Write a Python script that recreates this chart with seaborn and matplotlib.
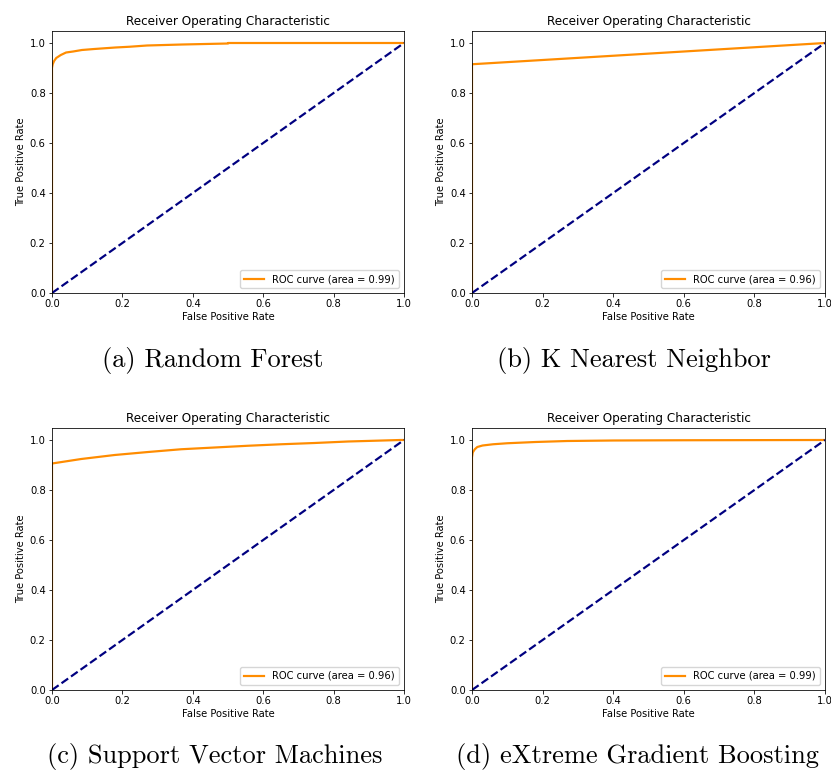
import matplotlib
matplotlib.use('Agg')
import matplotlib.pyplot as plt
import seaborn as sns

# ROC points
rf_fpr = [0.0, 0.0, 0.002, 0.006, 0.012, 0.025, 0.04, 0.06, 0.085, 0.12, 0.18, 0.22, 0.27, 0.37, 0.5, 0.5, 1.0]
rf_tpr = [0.0, 0.90, 0.915, 0.928, 0.94, 0.952, 0.962, 0.966, 0.972, 0.976, 0.982, 0.985, 0.99, 0.994, 0.998, 1.0, 1.0]

knn_fpr = [0.0, 0.0, 1.0]
knn_tpr = [0.0, 0.915, 1.0]

svm_fpr = [0.0, 0.0, 0.083, 0.178, 0.273, 0.367, 0.462, 0.557, 0.652, 0.746, 0.841, 0.99, 1.0]
svm_tpr = [0.0, 0.906, 0.924, 0.94, 0.952, 0.963, 0.97, 0.977, 0.983, 0.988, 0.994, 1.0, 1.0]

xgb_fpr = [0.0, 0.0, 0.002, 0.008, 0.015, 0.03, 0.06, 0.1, 0.18, 0.27, 0.4, 0.6, 1.0]
xgb_tpr = [0.0, 0.93, 0.95, 0.963, 0.972, 0.978, 0.983, 0.987, 0.992, 0.996, 0.998, 0.999, 1.0]

diag = [0.0, 1.0]
aucs = [0.99, 0.96, 0.96, 0.99]
captions = ["(a) Random Forest", "(b) K Nearest Neighbor",
            "(c) Support Vector Machines", "(d) eXtreme Gradient Boosting"]

plt.style.use('default')
S = 0.72  # shrink factor of the original figures

fig = plt.figure(figsize=(8.31, 7.72), dpi=100)
W, H = 831, 772
# axes boxes in pixels: left, top, width, height
boxes = [(52, 30.5, 352, 262.5), (472, 30.5, 353, 262.5),
         (52, 427.5, 352, 262.5), (472, 427.5, 353, 262.5)]
cap_pos = [(213, 360), (634, 360), (215, 757), (637, 757)]
curves = [(rf_fpr, rf_tpr), (knn_fpr, knn_tpr), (svm_fpr, svm_tpr), (xgb_fpr, xgb_tpr)]

for (l, t, w, h), (fpr, tpr), auc, cap, (cx, cy) in zip(boxes, curves, aucs, captions, cap_pos):
    ax = fig.add_axes([l / W, 1 - (t + h) / H, w / W, h / H])
    sns.lineplot(x=fpr, y=tpr, ax=ax, color='darkorange', lw=2 * S * 1.1,
                 sort=False, estimator=None, label=f'ROC curve (area = {auc:.2f})')
    sns.lineplot(x=diag, y=diag, ax=ax, color='navy', lw=2 * S * 1.1, linestyle='--',
                 sort=False, estimator=None)
    ax.set_xlim([0.0, 1.0])
    ax.set_ylim([0.0, 1.05])
    ax.set_xlabel('False Positive Rate', fontsize=10 * S, labelpad=2)
    ax.set_ylabel('True Positive Rate', fontsize=10 * S, labelpad=3)
    ax.set_title('Receiver Operating Characteristic', fontsize=12 * S, pad=4)
    ax.tick_params(labelsize=10 * S, length=3.5 * S, width=0.8 * S, pad=2)
    for sp in ax.spines.values():
        sp.set_linewidth(0.8 * S)
    ax.legend(loc='lower right', fontsize=10 * S)
    fig.text(cx / W, 1 - cy / H, cap, ha='center', va='center',
             fontname='cmr10', fontsize=19)

fig.savefig('out.png', dpi=100)
